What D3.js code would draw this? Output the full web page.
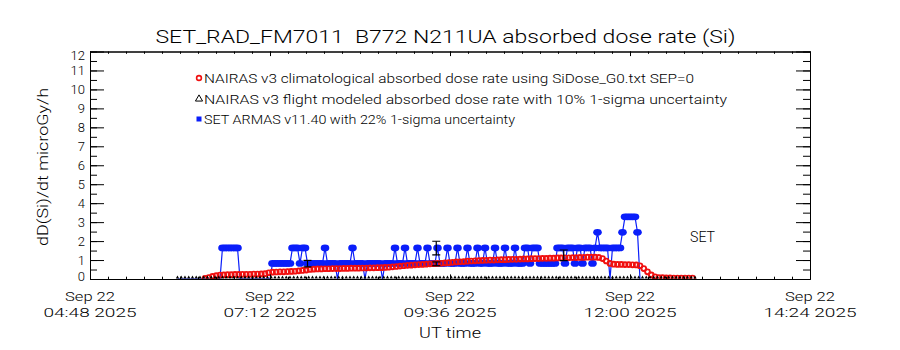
<!DOCTYPE html>
<html><head><meta charset="utf-8">
<script src="https://cdn.jsdelivr.net/npm/d3@7"></script>
<style>
body{margin:0;background:#fff;}
text{font-family:"Roboto","Liberation Sans",Arial,sans-serif;font-weight:300;fill:#000;white-space:pre;}
</style>
</head><body>
<svg id="chart" width="900" height="350"></svg>
<script>
// ---------------- data ----------------
const titleText = "SET_RAD_FM7011  B772 N211UA absorbed dose rate (Si)";
const yLabelText = "dD(Si)/dt microGy/h";
const xLabelText = "UT time";
const legendLabels = [
  "NAIRAS v3 climatological absorbed dose rate using SiDose_G0.txt SEP=0",
  "NAIRAS v3 flight modeled absorbed dose rate with 10% 1-sigma uncertainty",
  "SET ARMAS v11.40 with 22% 1-sigma uncertainty"
];
const yTicks = [0,1,2,3,4,5,6,7,8,9,10,11,12];
const xTickTimes = ["04:48","07:12","09:36","12:00","14:24"];
const xTickDates = ["Sep 22","Sep 22","Sep 22","Sep 22","Sep 22"];
const xTickYears = ["2025","2025","2025","2025","2025"];
const xStart = "04:48", xEnd = "14:24";

// SET ARMAS (blue) samples every 2 min starting 05:58 UT
const blueStart = "05:58", blueStepMin = 2;
const blueValues = [
 0,0,0,0,0,0,0,0,0,0, 0,0,0,0,0,0,0,0,1.64,1.64,
 1.64,1.64,1.64,1.64,1.64,0,0,0,0,0, 0,0,0,0,0,0,0,0,0.82,0.82,
 0.82,0.82,0.82,0.82,0.82,0.82,1.64,1.64,1.64,0.82, 1.64,1.64,0.82,0.82,0.82,0.82,0.82,0.82,0.82,1.64,
 0.82,0.82,0.82,0.82,0,0.82,0.82,0.82,0.82,0.82, 1.64,0.82,0.82,0.82,0.82,0,0.82,0.82,0.82,0.82,
 0.82,0.82,0,0.82,0.82,0.82,0.82,1.64,0.82,0.82, 0.82,1.64,0.82,0.82,0.82,0.82,1.64,0.82,0.82,0.82,
 1.64,0.82,0.82,0.82,1.64,0.82,0.82,0.82,1.64,0.82, 0.82,0.82,1.64,0.82,0.82,0.82,1.64,0.82,0.82,0.82,
 1.64,0.82,0.82,1.64,0.82,0.82,0.82,1.64,0.82,0.82, 0.82,1.64,0.82,0.82,0.82,1.64,0.82,0.82,0.82,1.64,
 1.64,0.82,1.64,1.64,1.64,0.82,0.82,0.82,0.82,0.82, 0.82,0.82,1.64,1.64,1.64,0.82,1.64,1.64,1.64,0.82,
 1.64,1.64,0.82,1.64,1.64,1.64,0.82,1.64,2.46,1.64, 1.64,1.64,1.64,0,1.64,1.64,1.64,1.64,2.46,3.28,
 3.28,3.28,3.28,3.28,2.46,0
];

// NAIRAS climatological (red) samples every 3 min starting 06:20 UT
const redStart = "06:20", redStepMin = 3;
const redValues = [
 0.03,0.08,0.14,0.18,0.21,0.22,0.23,0.23,0.24,0.24,
 0.25,0.25,0.25,0.26,0.26,0.27,0.28,0.33,0.36,0.37,
 0.38,0.38,0.39,0.40,0.41,0.43,0.45,0.47,0.50,0.52,
 0.53,0.53,0.54,0.54,0.55,0.55,0.55,0.56,0.56,0.57,
 0.57,0.57,0.58,0.58,0.59,0.59,0.60,0.60,0.61,0.62,
 0.64,0.66,0.68,0.70,0.72,0.73,0.75,0.76,0.77,0.78,
 0.80,0.81,0.82,0.83,0.85,0.86,0.88,0.90,0.91,0.92,
 0.94,0.95,0.96,0.97,0.98,0.99,1.00,1.00,1.01,1.02,
 1.02,1.03,1.04,1.04,1.05,1.06,1.06,1.07,1.08,1.08,
 1.09,1.09,1.10,1.10,1.11,1.11,1.12,1.12,1.13,1.13,
 1.14,1.14,1.15,1.15,1.15,1.14,1.08,0.95,0.82,0.78,
 0.77,0.77,0.76,0.76,0.75,0.74,0.70,0.55,0.38,0.22,
 0.12,0.08,0.07,0.06,0.06,0.05,0.05,0.05,0.05,0.05,
 0.05
];

// NAIRAS flight modeled (black triangles) samples every 3 min starting 05:58 UT
const blackStart = "05:58", blackStepMin = 3;
const blackValues = [
 0,0,0,0,0,0,0,0,0,0, 0,0,0,0,0,0,0,0,0,0,
 0,0,0,0,0,0,0,0,0,0, 0,0,0,0,0,0,0,0,0,0,
 0,0,0,0,0,0,0,0,0,0, 0,0,0,0,0,0,0,0,0,0,
 0,0,0,0,0,0,0,0,0,0, 0,0,0,0,0,0,0,0,0,0,
 0,0,0,0,0,0,0,0,0,0, 0,0,0,0,0,0,0,0,0,0,
 0,0,0,0,0,0,0,0,0,0, 0,0,0,0,0,0,0,0,0,0,
 0,0,0,0,0,0,0,0,0,0, 0,0,0,0,0,0,0,0,0
];

// error bars (black) drawn on some points
const errTimes = ["07:42","09:25","09:25","11:07"];
const errValues = [0.81,1.63,0.80,1.25];
const errSigmas = [0.17,0.36,0.10,0.28];

const sideLabel = "SET";

// ---------------- helpers ----------------
const t = s => { const [h,m] = s.split(":").map(Number); return new Date(Date.UTC(2025,8,22,h,m)); };
const series = (start, step, vals) => vals.map((v,i) => ({d: new Date(t(start).getTime() + i*step*60000), v}));

const svg = d3.select("#chart");
const L = 90, R = 810, T = 51.5, B = 279;
const x = d3.scaleUtc().domain([t(xStart), t(xEnd)]).range([L, R]);
const y = d3.scaleLinear().domain([0, 12]).range([B, T]);

svg.append("defs").append("clipPath").attr("id","clip")
  .append("rect").attr("x",L).attr("y",T).attr("width",R-L).attr("height",B-T);
const plot = svg.append("g").attr("clip-path","url(#clip)");

// blue
const BLUE = "#0a1efa";
const blue = series(blueStart, blueStepMin, blueValues);
plot.append("path").datum(blue)
  .attr("fill","none").attr("stroke",BLUE).attr("stroke-width",1.2)
  .attr("d", d3.line().x(d=>x(d.d)).y(d=>y(d.v)));
plot.append("g").selectAll("ellipse").data(blue.filter(d=>d.v>0)).join("ellipse")
  .attr("cx",d=>x(d.d)).attr("cy",d=>y(d.v)).attr("rx",4.3).attr("ry",3.4).attr("fill",BLUE);

// red
const RED = "#f01010";
const red = series(redStart, redStepMin, redValues);
plot.append("g").selectAll("circle").data(red).join("circle")
  .attr("cx",d=>x(d.d)).attr("cy",d=>y(d.v)).attr("r",2.4)
  .attr("fill","none").attr("stroke",RED).attr("stroke-width",1.9);

// black triangles
const black = series(blackStart, blackStepMin, blackValues);
const tri = d3.symbol().type(d3.symbolTriangle).size(5);
plot.append("g").selectAll("path").data(black).join("path")
  .attr("transform",d=>`translate(${x(d.d)},${y(d.v)-1.5})`).attr("d",tri)
  .attr("fill","#000");

// error bars
const eb = plot.append("g").attr("stroke","#000").attr("stroke-width",1.2);
errTimes.forEach((s,i)=>{
  const cx = x(t(s)), y1 = y(errValues[i]-errSigmas[i]), y2 = y(errValues[i]+errSigmas[i]);
  eb.append("line").attr("x1",cx).attr("x2",cx).attr("y1",y1).attr("y2",y2);
  eb.append("line").attr("x1",cx-4).attr("x2",cx+4).attr("y1",y1).attr("y2",y1);
  eb.append("line").attr("x1",cx-4).attr("x2",cx+4).attr("y1",y2).attr("y2",y2);
});

// ---------------- axes ----------------
const majorX = xTickTimes.map(t);
const minorX = d3.range(0, 41).map(i => new Date(t(xStart).getTime() + i*14.4*60000));
const minorY = d3.range(0, 12.01, 0.5);
const axisStyle = g => { g.selectAll("text").remove(); g.selectAll("path,line").attr("stroke","#000"); };

svg.append("g").attr("transform",`translate(0,${B})`)
  .call(d3.axisBottom(x).tickValues(minorX).tickSize(-2.3).tickSizeOuter(0).tickFormat("")).call(axisStyle);
svg.append("g").attr("transform",`translate(0,${B})`)
  .call(d3.axisBottom(x).tickValues(majorX).tickSize(-4.6).tickSizeOuter(0).tickFormat("")).call(axisStyle);
svg.append("g").attr("transform",`translate(0,${T})`)
  .call(d3.axisTop(x).tickValues(minorX).tickSize(-2.3).tickSizeOuter(0).tickFormat("")).call(axisStyle);
svg.append("g").attr("transform",`translate(0,${T})`)
  .call(d3.axisTop(x).tickValues(majorX).tickSize(-4.6).tickSizeOuter(0).tickFormat("")).call(axisStyle);
svg.append("g").attr("transform",`translate(${L},0)`)
  .call(d3.axisLeft(y).tickValues(minorY).tickSize(-7).tickSizeOuter(0).tickFormat("")).call(axisStyle);
svg.append("g").attr("transform",`translate(${L},0)`)
  .call(d3.axisLeft(y).tickValues(yTicks).tickSize(-14).tickSizeOuter(0).tickFormat("")).call(axisStyle);
svg.append("g").attr("transform",`translate(${R},0)`)
  .call(d3.axisRight(y).tickValues(minorY).tickSize(-7).tickSizeOuter(0).tickFormat("")).call(axisStyle);
svg.append("g").attr("transform",`translate(${R},0)`)
  .call(d3.axisRight(y).tickValues(yTicks).tickSize(-14).tickSizeOuter(0).tickFormat("")).call(axisStyle);

// y tick labels
svg.append("g").selectAll("text").data(yTicks).join("text")
  .attr("x", 85).attr("y", d => y(d) + 5 - (d===0?3:0) + (d===12?3:0))
  .attr("text-anchor","end").attr("font-size",13).text(d=>d);

// x tick labels
const xl = svg.append("g");
majorX.forEach((d,i)=>{
  xl.append("text").attr("x",x(d)).attr("y",301).attr("text-anchor","middle").attr("font-size",13.5)
    .attr("textLength",50).attr("lengthAdjust","spacingAndGlyphs").text(xTickDates[i]);
  xl.append("text").attr("x",x(d)).attr("y",317).attr("text-anchor","middle").attr("font-size",13.5)
    .attr("textLength",93).attr("lengthAdjust","spacingAndGlyphs").text(xTickTimes[i]+" "+xTickYears[i]);
});
svg.append("text").attr("x",450).attr("y",338).attr("text-anchor","middle").attr("font-size",14)
  .attr("textLength",62).attr("lengthAdjust","spacingAndGlyphs").text(xLabelText);

// y label
svg.append("text").attr("transform","translate(48,167) rotate(-90)").attr("text-anchor","middle")
  .attr("font-size",15).attr("textLength",158).attr("lengthAdjust","spacingAndGlyphs").text(yLabelText);

// title
svg.append("text").attr("x",445.5).attr("y",43).attr("text-anchor","middle").attr("font-size",19)
  .attr("textLength",580).attr("lengthAdjust","spacingAndGlyphs").text(titleText);

// legend
const legY = [78, 99, 119], legLen = [490, 523, 311];
legendLabels.forEach((s,i)=>{
  svg.append("text").attr("x",204).attr("y",legY[i]+5).attr("font-size",13)
    .attr("textLength",legLen[i]).attr("lengthAdjust","spacingAndGlyphs").text(s);
});
svg.append("circle").attr("cx",199).attr("cy",legY[0]).attr("r",2.4).attr("fill","none").attr("stroke",RED).attr("stroke-width",1.6);
svg.append("path").attr("transform",`translate(199,${legY[1]})`).attr("d",d3.symbol().type(d3.symbolTriangle).size(22))
  .attr("fill","none").attr("stroke","#000").attr("stroke-width",1);
svg.append("rect").attr("x",196.5).attr("y",legY[2]-2.5).attr("width",5).attr("height",5).attr("fill",BLUE);

// side label
svg.append("text").attr("x",690).attr("y",242).attr("font-size",14)
  .attr("textLength",25).attr("lengthAdjust","spacingAndGlyphs").text(sideLabel);
</script>
</body></html>
